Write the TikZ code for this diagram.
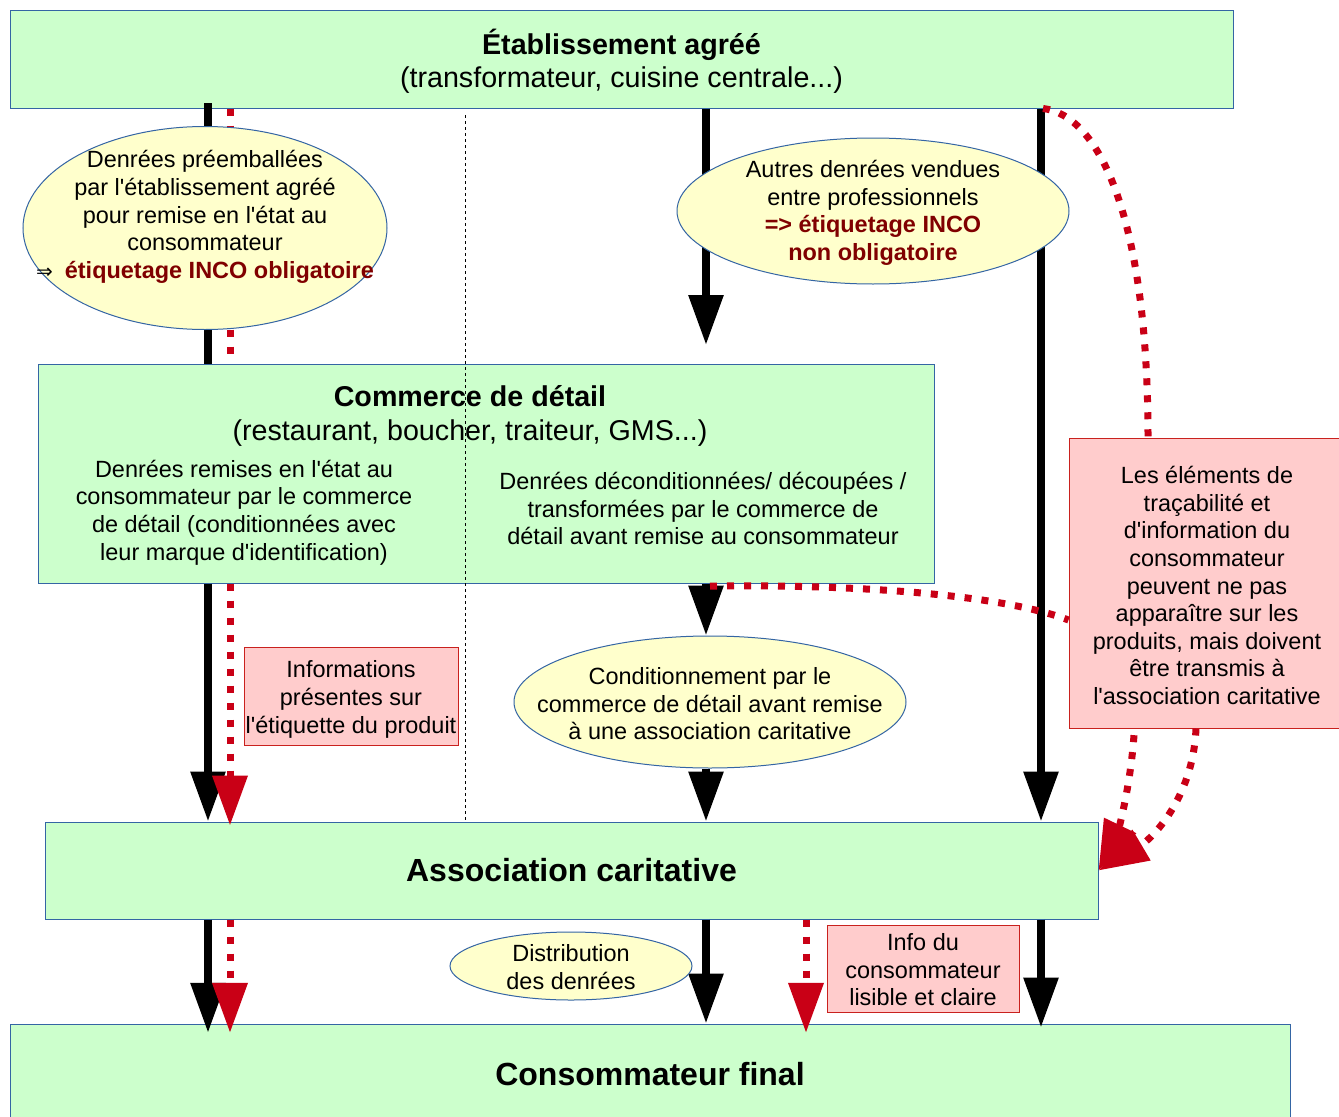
\documentclass[tikz,border=0pt]{standalone}
\usepackage{fontspec}
\setmainfont{Liberation Sans}[Ligatures=TeXOff]
\newfontfamily\dejavu{DejaVu Sans}
\usetikzlibrary{arrows.meta,shapes.geometric}
\definecolor{gfill}{HTML}{CCFFCC}
\definecolor{yfill}{HTML}{FFFFCC}
\definecolor{pfill}{HTML}{FFCCCC}
\definecolor{bdr}{HTML}{3465A4}
\definecolor{rbdr}{HTML}{C9211E}
\definecolor{redline}{HTML}{C90016}
\definecolor{dred}{HTML}{800000}
\newcommand\fsn{\fontsize{17.6pt}{20.7pt}\selectfont}
\newcommand\fst{\fontsize{21.5pt}{25pt}\selectfont}
\newcommand\fsb{\fontsize{24pt}{28pt}\selectfont}
\pgfdeclarelayer{bg}
\pgfdeclarelayer{fg}
\pgfsetlayers{bg,main,fg}
\begin{document}
\begin{tikzpicture}[x=0.75pt,y=-0.75pt,
  gbox/.style={draw=bdr, line width=0.75pt, fill=gfill, inner sep=0pt, align=center},
  pbox/.style={draw=rbdr, line width=0.75pt, fill=pfill, inner sep=0pt, align=center, font=\fsn},
  ybl/.style={ellipse, draw=bdr, line width=0.75pt, fill=yfill, inner sep=0pt},
  txt/.style={align=center, font=\fsn, inner sep=0pt},
  blkline/.style={line width=6pt},
  blk/.style={line width=6pt, -{Triangle[length=37.5pt,width=25pt]}},
  rdot/.style={draw=redline, line width=5.25pt, dash pattern=on 5.25pt off 7.5pt},
  rarr/.style={rdot, -{Triangle[length=37.5pt,width=25.5pt]}},
  sep/.style={draw=black, line width=0.75pt, dash pattern=on 2.25pt off 2.25pt}
]
\useasboundingbox (0,0) rectangle (1339,1117);
\begin{pgfonlayer}{bg}
\fill[white] (0,0) rectangle (1339,1117);
\node[gbox, minimum width=917.25pt, minimum height=73.5pt] (etab) at (621.5,59) {};
\node[txt, font=\fst] (etabtxt) at (621.5,61)
  {\textbf{Établissement agréé}\\(transformateur, cuisine centrale...)};
\node[gbox, minimum width=672pt, minimum height=164.25pt] (comm) at (486,473.5) {};
\node[gbox, minimum width=789.75pt, minimum height=72.75pt, font=\fsb] (assoc) at (571.5,870.5)
  {\textbf{Association caritative}};
\node[gbox, minimum width=960pt, minimum height=75pt, font=\fsb] (conso) at (650,1074)
  {\textbf{Consommateur final}};
\node[pbox, minimum width=160.5pt, minimum height=73.5pt] (info) at (351,696) {};
\node[txt] (infotxt) at (351,699.5)
  {Informations\\présentes sur\\l'étiquette du produit};
\node[pbox, minimum width=207pt, minimum height=217.5pt] (trans) at (1207,583) {};
\node[txt] (transtxt) at (1207,585.5)
  {Les éléments de\\traçabilité et\\d'information du\\consommateur\\peuvent ne pas\\apparaître sur les\\produits, mais doivent\\être transmis à\\l'association caritative};
\node[pbox, minimum width=144pt, minimum height=65.25pt] (lisible) at (923,968.5) {};
\node[txt] (lisibletxt) at (923,970)
  {Info du\\consommateur\\lisible et claire};
\node[txt, font=\fst] (commtitle) at (470,416)
  {\textbf{Commerce de détail}\\(restaurant, boucher, traiteur, GMS...)};
\node[txt] (commleft) at (244,512.5)
  {Denrées remises en l'état au\\consommateur par le commerce\\de détail (conditionnées avec\\leur marque d'identification)};
\node[txt] (commright) at (703,508.5)
  {Denrées déconditionnées/ découpées /\\transformées par le commerce de\\détail avant remise au consommateur};
\end{pgfonlayer}

\begin{pgfonlayer}{fg}
\node[ybl, minimum width=273pt, minimum height=152.25pt] (pre) at (205,228) {};
\node[txt] (pretxt) at (205,217)
  {Denrées préemballées\\par l'établissement agréé\\pour remise en l'état au\\consommateur\\{\dejavu\fontsize{15pt}{20.7pt}\selectfont ⇒}\hspace{9pt}\textcolor{dred}{\textbf{étiquetage INCO obligatoire}}};
\node[ybl, minimum width=294pt, minimum height=109.5pt] (autres) at (873,211) {};
\node[txt] (autrestxt) at (873,213)
  {Autres denrées vendues\\entre professionnels\\\textcolor{dred}{\textbf{=> étiquetage INCO}}\\\textcolor{dred}{\textbf{non obligatoire}}};
\node[ybl, minimum width=294pt, minimum height=99pt] (cond) at (710,702) {};
\node[txt] (condtxt) at (710,704)
  {Conditionnement par le\\commerce de détail avant remise\\à une association caritative};
\node[ybl, minimum width=181.5pt, minimum height=51pt] (distr) at (571,966) {};
\node[txt] (distrtxt) at (571,967) {Distribution\\des denrées};
\end{pgfonlayer}

\coordinate (xa) at (208,0);
\coordinate (xr) at (230,0);
\coordinate (xb) at (706,0);
\coordinate (xc) at (1041,0);
\coordinate (xd) at (806,0);
\coordinate (xs) at (465,0);
\coordinate (xe) at (1148,0);
\coordinate (b1end) at (706,345);

% separator
\draw[sep] ([yshift=-5pt]etab.south -| xs) -- (assoc.north -| xs);

% column A
\draw[blkline] ([yshift=4pt]etab.south -| xa) -- (comm.north -| xa);
\draw[blk] (comm.south -| xa) -- (assoc.north -| xa);
\draw[blk, shorten >=-7pt] (assoc.south -| xa) -- (conso.north -| xa);
\draw[rdot] (etab.south -| xr) -- (comm.north -| xr);
\draw[rarr, shorten >=-3pt] (comm.south -| xr) -- (assoc.north -| xr);
\draw[rarr, shorten >=-7pt] (assoc.south -| xr) -- (conso.north -| xr);

% column B
\draw[blk] (etab.south -| xb) -- (b1end);
\draw[blk] (comm.south -| xb) -- (cond.north -| xb);
\draw[blk] (cond.south -| xb) -- (assoc.north -| xb);
\draw[blk] (assoc.south -| xb) -- (conso.north -| xb);

% column C
\draw[blk] (etab.south -| xc) -- (assoc.north -| xc);
\draw[blk, shorten >=-3pt] (assoc.south -| xc) -- (conso.north -| xc);

% column D
\draw[rarr, shorten >=-7pt] (assoc.south -| xd) -- (conso.north -| xd);

% curves
\draw[rdot] ([xshift=1.5pt]etab.south -| xc) .. controls (1100,115) and (1148,220) .. (trans.north -| xe);
\draw[rdot] ([xshift=3pt,yshift=-2pt]comm.south -| xb) .. controls (850,584) and (1000,594) .. ([yshift=-27.75pt]trans.west);
\draw[rarr] ([xshift=-54.75pt,yshift=-5pt]trans.south) .. controls (1130,790) and (1118,830) .. (assoc.east);
\draw[rarr] ([xshift=-8.25pt]trans.south) .. controls (1193,800) and (1150,840) .. (assoc.east);
\end{tikzpicture}
\end{document}
